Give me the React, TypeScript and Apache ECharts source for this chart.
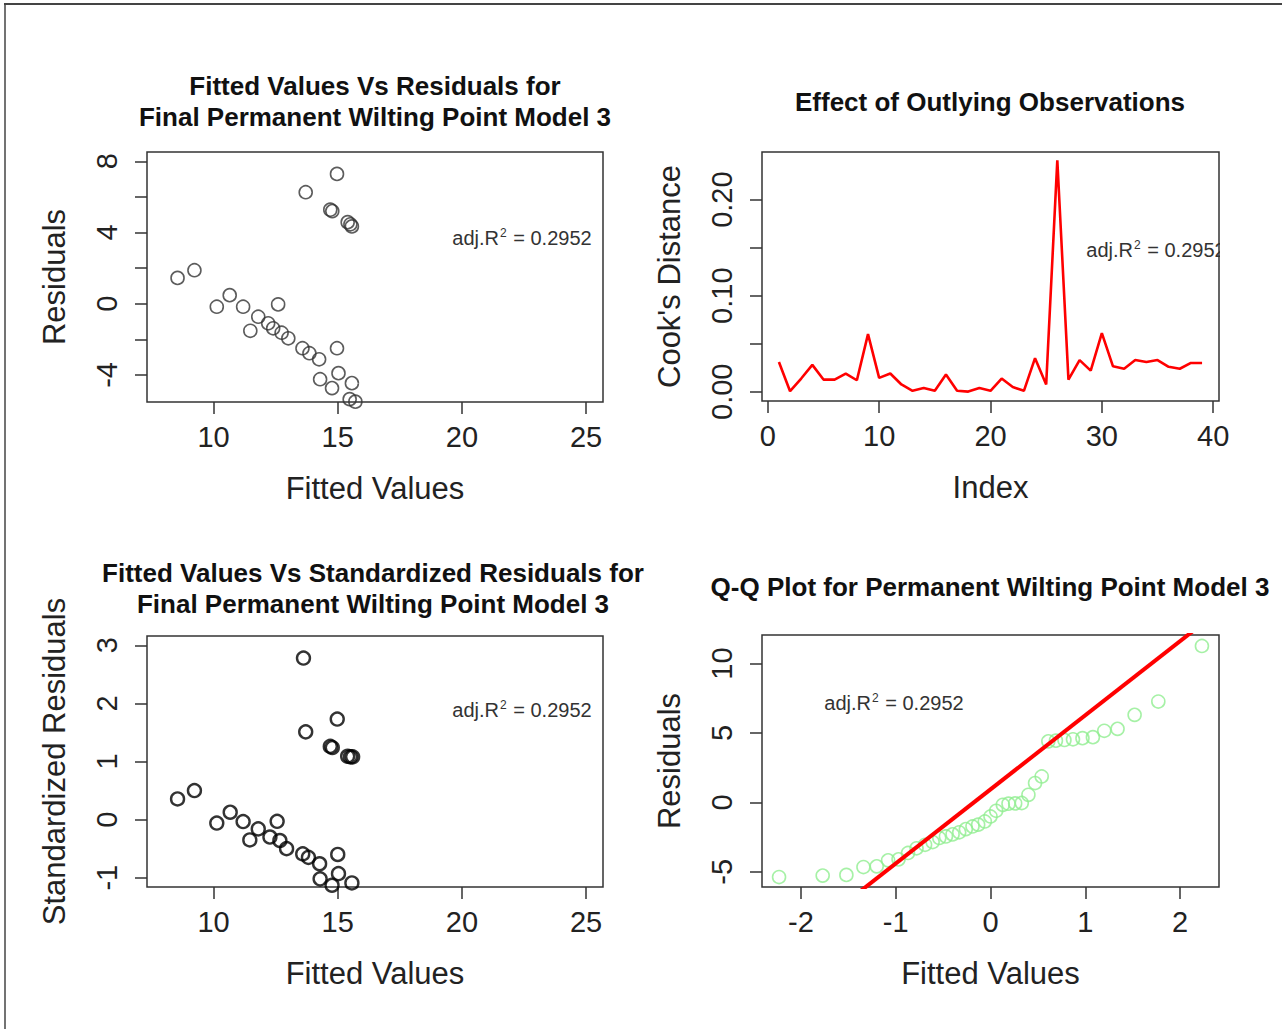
import React, { useEffect, useRef } from "react";
import * as echarts from "echarts";

// ---------- Data ----------
// Panel 1: Fitted values vs residuals
const tlFitted = [8.55, 9.23, 10.13, 10.65, 11.19, 12.6, 11.8, 11.48, 12.2, 12.4, 12.74, 13.01, 13.58, 13.86, 14.25, 14.97, 14.29, 14.77, 15.03, 15.57, 15.48, 15.71, 14.97, 13.71, 14.7, 14.78, 15.4, 15.51, 15.57];
const tlResid = [1.45, 1.88, -0.17, 0.48, -0.17, -0.04, -0.73, -1.52, -1.1, -1.38, -1.63, -1.94, -2.5, -2.78, -3.12, -2.5, -4.24, -4.74, -3.9, -4.46, -5.36, -5.5, 7.29, 6.26, 5.28, 5.2, 4.58, 4.46, 4.34];

// Panel 2: Cook's distance by index
const cookIndex = [1, 2, 3, 4, 5, 6, 7, 8, 9, 10, 11, 12, 13, 14, 15, 16, 17, 18, 19, 20, 21, 22, 23, 24, 25, 26, 27, 28, 29, 30, 31, 32, 33, 34, 35, 36, 37, 38, 39];
const cookValues = [0.031, 0.0006, 0.0138, 0.028, 0.0127, 0.0127, 0.019, 0.012, 0.06, 0.0145, 0.019, 0.0076, 0.001, 0.004, 0.001, 0.018, 0.001, 0.0002, 0.004, 0.001, 0.0138, 0.005, 0.001, 0.035, 0.0076, 0.241, 0.0127, 0.033, 0.022, 0.061, 0.0265, 0.024, 0.033, 0.031, 0.033, 0.026, 0.024, 0.03, 0.03];

// Panel 3: Fitted values vs standardized residuals
const blFitted = [8.55, 9.23, 10.13, 10.67, 11.19, 12.56, 11.8, 11.46, 12.27, 12.67, 12.94, 13.59, 13.82, 14.27, 15.0, 14.29, 15.03, 15.57, 14.77, 13.62, 14.98, 13.71, 14.7, 14.78, 15.4, 15.51, 15.6];
const blStd = [0.356, 0.5, -0.06, 0.127, -0.034, -0.03, -0.16, -0.35, -0.3, -0.36, -0.5, -0.59, -0.65, -0.76, -0.6, -1.02, -0.93, -1.09, -1.13, 2.78, 1.73, 1.51, 1.26, 1.24, 1.09, 1.08, 1.08];

// Panel 4: Q-Q plot
const qqTheoretical = [-2.23, -1.77, -1.52, -1.34, -1.2, -1.08, -0.97, -0.87, -0.78, -0.69, -0.61, -0.54, -0.47, -0.4, -0.33, -0.26, -0.19, -0.13, -0.06, 0, 0.06, 0.13, 0.19, 0.26, 0.33, 0.4, 0.47, 0.54, 0.61, 0.69, 0.78, 0.87, 0.97, 1.08, 1.2, 1.34, 1.52, 1.77, 2.23];
const qqSample = [-5.37, -5.27, -5.22, -4.65, -4.6, -4.17, -4.1, -3.64, -3.3, -3.05, -2.85, -2.56, -2.45, -2.3, -2.15, -1.92, -1.73, -1.6, -1.37, -1.01, -0.6, -0.17, -0.09, -0.07, -0.04, 0.55, 1.4, 1.87, 4.4, 4.45, 4.5, 4.55, 4.63, 4.7, 5.16, 5.3, 6.31, 7.27, 11.27];
const qqLineIntercept = 0.94;
const qqLineSlope = 5.34;
const qqLineXRange = [-2.8, 2.8];

// Tick values
const fittedTicks = [10, 15, 20, 25];
const residTicks = [-4, -2, 0, 2, 4, 6, 8];
const residLabels = [-4, 0, 4, 8];
const indexTicks = [0, 10, 20, 30, 40];
const cookTicks = [0, 0.05, 0.1, 0.15, 0.2];
const cookLabels = [0, 0.1, 0.2];
const stdTicks = [-1, 0, 1, 2, 3];
const qqXTicks = [-2, -1, 0, 1, 2];
const qqYTicks = [-5, 0, 5, 10];

const titles = {
  tl: ["Fitted Values Vs Residuals for", "Final Permanent Wilting Point Model 3"],
  tr: ["Effect of Outlying Observations"],
  bl: ["Fitted Values Vs Standardized Residuals for", "Final Permanent Wilting Point Model 3"],
  br: ["Q-Q Plot for Permanent Wilting Point Model 3"],
};
const adjR2 = "0.2952";

const FONT = '"Liberation Sans", Arial, sans-serif';
const INK = "#222";
const BOX = "#333";

function xAxisDef(gridIndex: number, min: number, max: number, ticks: number[], name: string) {
  return {
    type: "value",
    gridIndex,
    min,
    max,
    name,
    nameLocation: "middle",
    nameGap: 71,
    nameTextStyle: { fontSize: 31, color: INK, fontFamily: FONT },
    axisLine: { show: false, onZero: false },
    splitLine: { show: false },
    axisTick: { show: true, inside: false, length: 12, customValues: ticks, lineStyle: { color: BOX, width: 1.5 } },
    axisLabel: { show: true, customValues: ticks, margin: 20, fontSize: 29, color: INK, fontFamily: FONT },
  };
}

function yAxisDef(gridIndex: number, min: number, max: number, ticks: number[], labels: number[], name: string, fmt?: (v: number) => string) {
  return {
    type: "value",
    gridIndex,
    min,
    max,
    name,
    nameLocation: "middle",
    nameGap: 77,
    nameTextStyle: { fontSize: 31, color: INK, fontFamily: FONT },
    axisLine: { show: false, onZero: false },
    splitLine: { show: false },
    axisTick: { show: true, inside: false, length: 12, customValues: ticks, lineStyle: { color: BOX, width: 1.5 } },
    axisLabel: {
      show: true,
      customValues: labels,
      rotate: 90,
      margin: 26,
      fontSize: 29,
      color: INK,
      fontFamily: FONT,
      formatter: fmt ? (v: number) => fmt(v) : undefined,
    },
  };
}

function titleText(lines: string[], cx: number, ys: number[]) {
  return lines.map((t, i) => ({
    type: "text",
    x: cx,
    y: ys[i],
    style: {
      text: t,
      font: `bold 26px ${FONT}`,
      fill: "#111",
      align: "center",
      verticalAlign: "middle",
      textAlign: "center",
      textVerticalAlign: "middle",
    },
  }));
}

function adjText(cx: number, cy: number) {
  return {
    type: "text",
    x: cx,
    y: cy,
    z: 10,
    style: {
      text: `{a|adj.R}{s|2}{a| = ${adjR2}}`,
      fill: "#333",
      align: "center",
      verticalAlign: "middle",
      textAlign: "center",
      textVerticalAlign: "middle",
      rich: {
        a: { fontSize: 20, fontFamily: FONT, fill: "#333", color: "#333" },
        s: { fontSize: 12, fontFamily: FONT, fill: "#333", color: "#333", verticalAlign: "top", padding: [0, 1, 10, 1] },
      },
    },
  };
}

export default function App() {
  const ref = useRef<HTMLDivElement>(null);

  useEffect(() => {
    if (!ref.current) return;
    const chart = echarts.init(ref.current, undefined, { renderer: "svg" });

    const circleStyle = (color: string, width: number) => ({
      color: "rgba(0,0,0,0)",
      borderColor: color,
      borderWidth: width,
    });

    const option: any = {
      animation: false,
      backgroundColor: "#ffffff",
      textStyle: { fontFamily: FONT },
      grid: [
        { left: 147, top: 152, width: 456, height: 250, show: true, borderColor: BOX, borderWidth: 1.5, backgroundColor: "transparent" },
        { left: 762, top: 152, width: 457, height: 249, show: true, borderColor: BOX, borderWidth: 1.5, backgroundColor: "transparent" },
        { left: 147, top: 636, width: 456, height: 251, show: true, borderColor: BOX, borderWidth: 1.5, backgroundColor: "transparent" },
        { left: 762, top: 635, width: 457, height: 252, show: true, borderColor: BOX, borderWidth: 1.5, backgroundColor: "transparent" },
      ],
      xAxis: [
        xAxisDef(0, 7.32, 25.68, fittedTicks, "Fitted Values"),
        xAxisDef(1, -0.52, 40.52, indexTicks, "Index"),
        xAxisDef(2, 7.32, 25.68, fittedTicks, "Fitted Values"),
        xAxisDef(3, -2.41, 2.41, qqXTicks, "Fitted Values"),
      ],
      yAxis: [
        yAxisDef(0, -5.52, 8.52, residTicks, residLabels, "Residuals"),
        yAxisDef(1, -0.0096, 0.2496, cookTicks, cookLabels, "Cook's Distance", (v) => v.toFixed(2)),
        yAxisDef(2, -1.16, 3.16, stdTicks, stdTicks, "Standardized Residuals"),
        yAxisDef(3, -6.09, 12.06, qqYTicks, qqYTicks, "Residuals"),
      ],
      series: [
        {
          type: "scatter",
          xAxisIndex: 0,
          yAxisIndex: 0,
          symbol: "circle",
          symbolSize: 13,
          clip: true,
          itemStyle: circleStyle("#333", 1.6),
          data: tlFitted.map((x, i) => [x, tlResid[i]]),
        },
        {
          type: "line",
          xAxisIndex: 1,
          yAxisIndex: 1,
          showSymbol: false,
          symbol: "none",
          lineStyle: { color: "#ff0000", width: 2.6 },
          data: cookIndex.map((x, i) => [x, cookValues[i]]),
        },
        {
          type: "scatter",
          xAxisIndex: 2,
          yAxisIndex: 2,
          symbol: "circle",
          symbolSize: 13,
          clip: true,
          itemStyle: circleStyle("#000", 2.4),
          data: blFitted.map((x, i) => [x, blStd[i]]),
        },
        {
          type: "scatter",
          xAxisIndex: 3,
          yAxisIndex: 3,
          symbol: "circle",
          symbolSize: 13,
          clip: true,
          itemStyle: circleStyle("#90ee90", 1.6),
          data: qqTheoretical.map((x, i) => [x, qqSample[i]]),
        },
        {
          type: "line",
          xAxisIndex: 3,
          yAxisIndex: 3,
          showSymbol: false,
          symbol: "none",
          clip: true,
          lineStyle: { color: "#ff0000", width: 4 },
          data: qqLineXRange.map((x) => [x, qqLineIntercept + qqLineSlope * x]),
        },
      ],
      graphic: [
        // outer frame (top + left edge)
        { type: "line", shape: { x1: 4, y1: 4, x2: 1282, y2: 4 }, style: { stroke: "#444", lineWidth: 2 } },
        { type: "line", shape: { x1: 5, y1: 4, x2: 5, y2: 1029 }, style: { stroke: "#444", lineWidth: 1.5 } },
        ...titleText(titles.tl, 375, [86, 117]),
        ...titleText(titles.tr, 990, [102]),
        ...titleText(titles.bl, 373, [573, 604]),
        ...titleText(titles.br, 990, [587]),
        adjText(522, 238),
        adjText(1156, 250),
        { type: "rect", z: 20, shape: { x: 1220, y: 232, width: 30, height: 36 }, style: { fill: "#ffffff" } },
        adjText(522, 710),
        adjText(894, 703),
      ],
    };

    chart.setOption(option);
    return () => chart.dispose();
  }, []);

  return <div ref={ref} style={{ position: "absolute", left: 0, top: 0, width: 1282, height: 1029 }} />;
}
